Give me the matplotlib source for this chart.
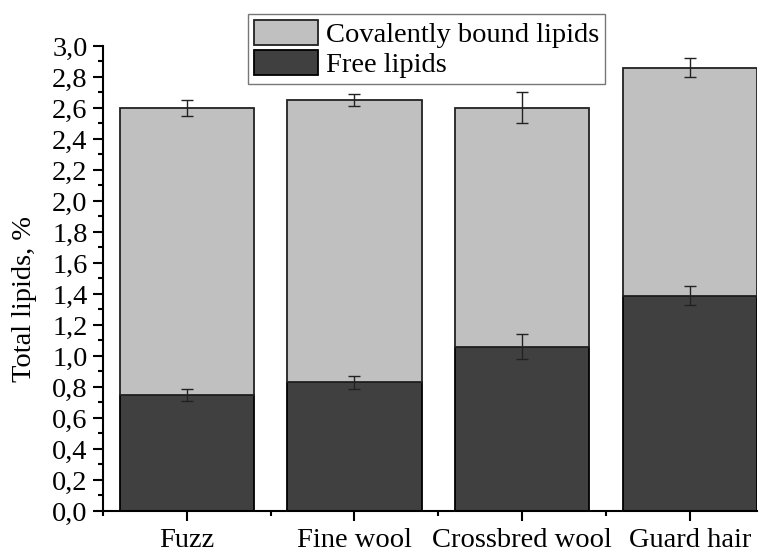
import numpy as np
import matplotlib.pyplot as plt
from matplotlib.ticker import MultipleLocator, FuncFormatter

plt.rcParams['font.family'] = ['Liberation Serif', 'DejaVu Serif']

# data
categories = ["Fuzz", "Fine wool", "Crossbred wool", "Guard hair"]
free = [0.75, 0.83, 1.06, 1.39]
free_err = [0.04, 0.04, 0.08, 0.06]
total = [2.60, 2.65, 2.60, 2.86]
total_err = [0.05, 0.04, 0.10, 0.06]

covalent = [t - f for t, f in zip(total, free)]
x = np.arange(len(categories))
fs = 20.5

fig = plt.figure(figsize=(7.66, 5.52), dpi=100)
ax = fig.add_axes([0.1345, 0.0743, 0.8535, 0.8424])

b1 = ax.bar(x, free, width=0.8, color='#404040', edgecolor='black', lw=1.3,
            label='Free lipids')
b2 = ax.bar(x, covalent, bottom=free, width=0.8, color='#c0c0c0',
            edgecolor='#222222', lw=1.3, label='Covalently bound lipids')
ax.errorbar(x, free, yerr=free_err, fmt='none', ecolor='#222222',
            elinewidth=1, capsize=4, capthick=1)
ax.errorbar(x, total, yerr=total_err, fmt='none', ecolor='#222222',
            elinewidth=1, capsize=4, capthick=1)

ax.set_xlim(-0.5, 3.4)
ax.set_ylim(0, 3.0)
ax.set_xticks(x)
ax.set_xticklabels(categories, fontsize=fs)
ax.xaxis.set_minor_locator(MultipleLocator(1, offset=0.5))
ax.yaxis.set_major_locator(MultipleLocator(0.2))
ax.yaxis.set_minor_locator(MultipleLocator(0.1))
ax.yaxis.set_major_formatter(FuncFormatter(lambda v, p: f"{v:.1f}".replace('.', ',')))
ax.tick_params(axis='y', labelsize=fs, pad=4)
ax.tick_params(which='major', length=7, width=1.5, direction='out')
ax.tick_params(which='minor', length=3.5, width=1.5, direction='out')
ax.tick_params(axis='x', pad=5)

for s in ['top', 'right']:
    ax.spines[s].set_visible(False)
for s in ['left', 'bottom']:
    ax.spines[s].set_linewidth(1.5)

ax.set_ylabel('Total lipids, %', fontsize=fs)
ax.yaxis.set_label_coords(-0.101, 0.456)

leg = ax.legend([b2, b1], ['Covalently bound lipids', 'Free lipids'],
                loc='upper center', bbox_to_anchor=(0.495, 1.069), fontsize=fs,
                frameon=True, fancybox=False, edgecolor='#555555',
                handlelength=2.25, handleheight=1.0, handletextpad=0.3,
                borderpad=0.2, labelspacing=0.05, borderaxespad=0)
leg.get_frame().set_linewidth(1)

plt.savefig('out.png', dpi=100)
